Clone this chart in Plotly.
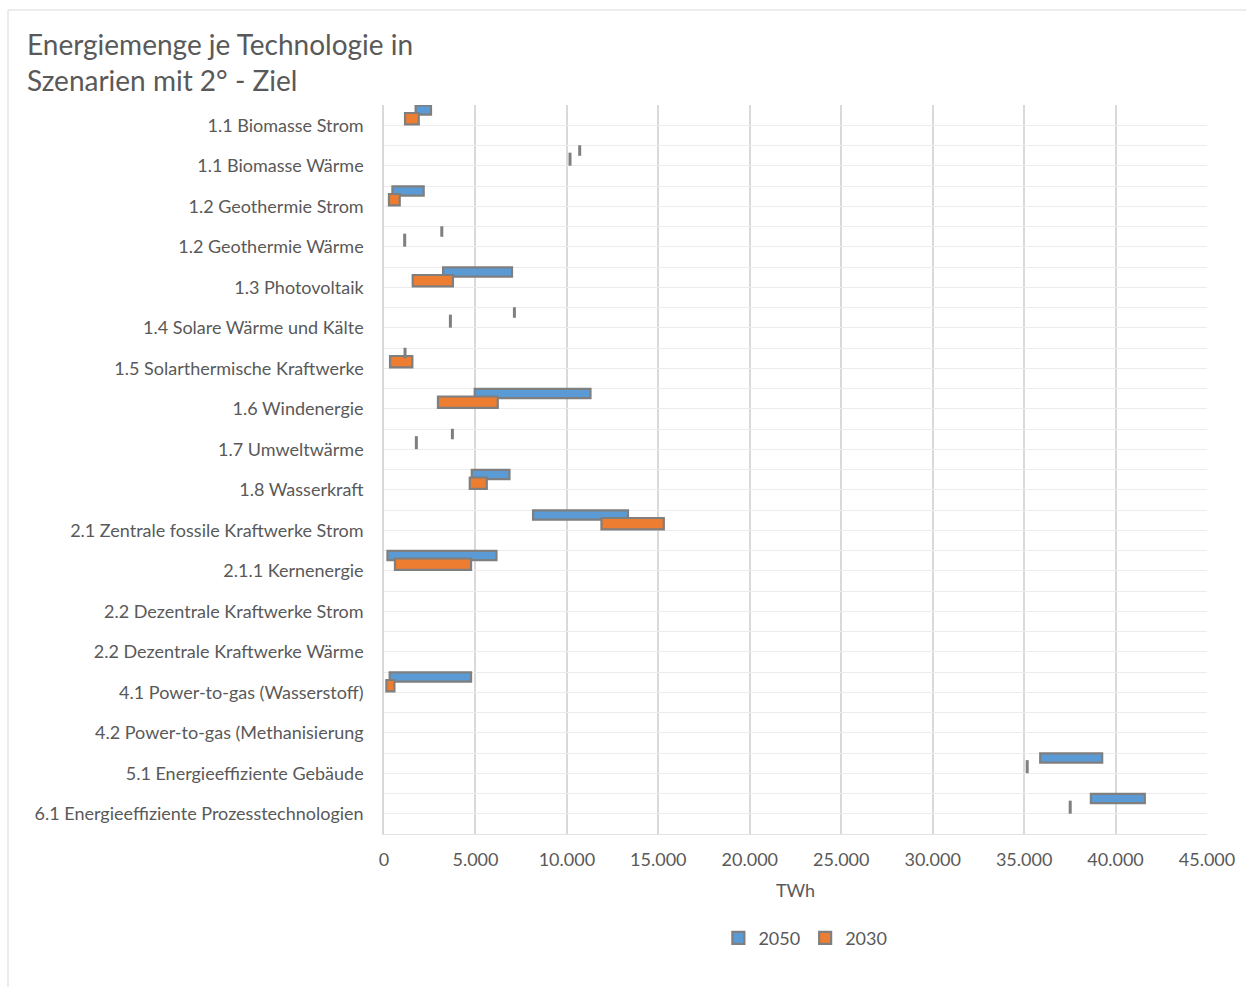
import plotly.graph_objects as go

# Technologies (top to bottom) and the energy range per scenario year, in TWh
categories = [
    "1.1 Biomasse Strom",
    "1.1 Biomasse Wärme",
    "1.2 Geothermie Strom",
    "1.2 Geothermie Wärme",
    "1.3 Photovoltaik",
    "1.4 Solare Wärme und Kälte",
    "1.5 Solarthermische Kraftwerke",
    "1.6 Windenergie",
    "1.7 Umweltwärme",
    "1.8 Wasserkraft",
    "2.1 Zentrale fossile Kraftwerke Strom",
    "2.1.1 Kernenergie",
    "2.2 Dezentrale Kraftwerke Strom",
    "2.2 Dezentrale Kraftwerke Wärme",
    "4.1 Power-to-gas (Wasserstoff)",
    "4.2 Power-to-gas (Methanisierung",
    "5.1 Energieeffiziente Gebäude",
    "6.1 Energieeffiziente Prozesstechnologien",
]

low_2050 = [1730, 10700, 460, 3160, 3230, 7130, 1150, 4960, 3740, 4800,
            8150, 190, None, None, 310, None, 35880, 38650]
high_2050 = [2570, 10700, 2170, 3160, 7000, 7130, 1150, 11290, 3740, 6860,
             13340, 6150, None, None, 4760, None, 39270, 41600]

low_2030 = [1150, 10170, 270, 1130, 1570, 3630, 330, 2950, 1770, 4690,
            11890, 600, None, None, 130, None, 35170, 37520]
high_2030 = [1900, 10170, 860, 1130, 3770, 3630, 1550, 6220, 1770, 5620,
             15300, 4760, None, None, 570, None, 35170, 37520]

x_ticks = list(range(0, 45001, 5000))

FONT = "Lato"
TEXT = "#595959"
EDGE = "#7f7f7f"

series = [
    # name, lows, highs, fill colour, row offset, bar thickness, tick size
    ("2050", low_2050, high_2050, "#5b9bd5", -0.376, 0.23, 7.5),
    ("2030", low_2030, high_2030, "#ed7d31", -0.163, 0.28, 9.3),
]

fig = go.Figure()

for name, lows, highs, color, off, thick, tsize in series:
    bar_y, bar_base, bar_len = [], [], []
    tick_y, tick_x = [], []
    for i, (lo, hi) in enumerate(zip(lows, highs)):
        if lo is None or hi is None:
            continue
        if hi > lo:
            bar_y.append(i + off)
            bar_base.append(lo)
            bar_len.append(hi - lo)
        else:
            tick_y.append(i + off)
            tick_x.append(lo)
    fig.add_trace(go.Bar(
        name=name,
        orientation="h",
        y=bar_y,
        x=bar_len,
        base=bar_base,
        width=thick,
        marker=dict(color=color, line=dict(color=EDGE, width=2.2)),
        showlegend=True,
        hovertemplate="%{base:,} – %{x:,}<extra>" + name + "</extra>",
    ))
    # ranges with identical start and end show up as a single stroke
    fig.add_trace(go.Scatter(
        x=tick_x,
        y=tick_y,
        mode="markers",
        marker=dict(symbol="line-ns", size=tsize,
                    line=dict(color=EDGE, width=3)),
        showlegend=False,
        hoverinfo="skip",
    ))

# gridlines on every half row, labels on the full rows
y_tickvals = [k * 0.5 - 0.5 for k in range(2 * len(categories) + 1)]
y_ticktext = []
for v in y_tickvals:
    if float(v).is_integer():
        y_ticktext.append(categories[int(v)])
    else:
        y_ticktext.append("")

fig.update_layout(
    width=1246,
    height=987,
    margin=dict(l=384, r=39, t=105, b=153),
    paper_bgcolor="white",
    plot_bgcolor="white",
    barmode="overlay",
    separators=",.",
    font=dict(family=FONT, color=TEXT, size=18),
    title=dict(
        text="Energiemenge je Technologie in<br>Szenarien mit 2° - Ziel",
        x=27 / 1246,
        xanchor="left",
        xref="container",
        y=1 - 55 / 987,
        yanchor="top",
        yref="container",
        font=dict(family=FONT, size=28, color=TEXT),
    ),
    xaxis=dict(
        range=[0, 45000],
        tickvals=x_ticks,
        tickformat=",d",
        showgrid=True,
        gridcolor="#d9d9d9",
        gridwidth=1.5,
        zeroline=False,
        showline=True,
        linecolor="#e3e3e3",
        ticks="",
        ticklabelstandoff=9,
        tickfont=dict(size=18, color=TEXT),
        title=dict(text="TWh", font=dict(size=18, color=TEXT), standoff=15),
        fixedrange=True,
    ),
    yaxis=dict(
        range=[len(categories) - 0.5, -0.5],
        tickvals=y_tickvals,
        ticktext=y_ticktext,
        showgrid=True,
        gridcolor="#ececec",
        gridwidth=1,
        zeroline=False,
        showline=True,
        linecolor="#d9d9d9",
        linewidth=1.5,
        ticks="",
        ticklabelstandoff=15,
        tickfont=dict(size=18, color=TEXT),
        fixedrange=True,
    ),
    legend=dict(
        orientation="h",
        x=0.512,
        xanchor="center",
        y=-0.143,
        yanchor="middle",
        font=dict(size=18, color=TEXT),
        itemwidth=30,
        traceorder="normal",
    ),
    shapes=[
        # outer chart frame
        dict(
            type="rect",
            xref="paper",
            yref="paper",
            x0=(8 - 384) / 823,
            x1=(1260 - 384) / 823,
            y0=(834 - 1000) / 729,
            y1=(834 - 10) / 729,
            line=dict(color="#d9d9d9", width=1),
            fillcolor="rgba(0,0,0,0)",
            layer="below",
        )
    ],
)

fig.write_html("out.html")
